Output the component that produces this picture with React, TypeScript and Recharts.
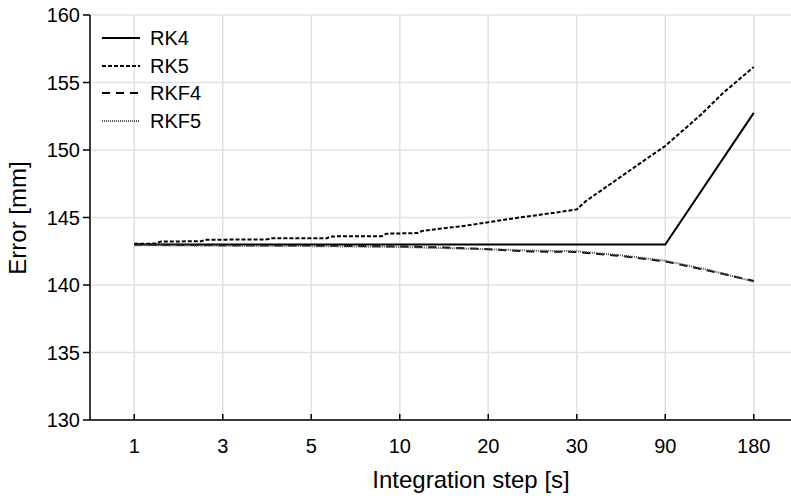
import React from 'react';
import { LineChart, Line, XAxis, YAxis, CartesianGrid } from 'recharts';

const stepLabels = ['1', '3', '5', '10', '20', '30', '90', '180'];
const stepPositions = [1, 2, 3, 4, 5, 6, 7, 8];
const errorTicks = [130, 135, 140, 145, 150, 155, 160];

const rk4Pos = [1, 2, 3, 4, 5, 6, 7, 8];
const rk4Val = [143.0, 143.0, 143.0, 143.0, 143.0, 143.0, 143.0, 152.75];

const rk5Pos = [1, 1.25, 1.3, 1.76, 1.8, 2.5, 2.55, 3.18, 3.22, 3.8, 3.85, 4.2, 4.25, 4.5, 4.75, 5.0, 5.35, 5.75, 6.0, 6.1, 6.45, 6.8, 7.0, 7.4, 7.65, 8.0];
const rk5Val = [143.05, 143.07, 143.22, 143.24, 143.35, 143.38, 143.46, 143.47, 143.6, 143.62, 143.8, 143.85, 144.0, 144.2, 144.4, 144.65, 145.0, 145.35, 145.6, 146.2, 147.8, 149.4, 150.3, 152.6, 154.2, 156.15];

const rkf4Pos = [1, 2, 3, 4, 4.5, 5, 5.5, 6, 6.5, 7, 7.5, 8];
const rkf4Val = [143.0, 142.95, 142.92, 142.85, 142.78, 142.65, 142.48, 142.45, 142.15, 141.75, 141.05, 140.3];

const rkf5Pos = [1, 2, 3, 4, 5, 5.5, 6, 6.5, 7, 7.5, 8];
const rkf5Val = [142.95, 142.9, 142.88, 142.82, 142.65, 142.55, 142.5, 142.2, 141.8, 141.1, 140.25];

const toPoints = (xs: number[], ys: number[]) => xs.map((x, i) => ({ x, y: ys[i] }));

const FONT = '"Liberation Sans", Arial, sans-serif';

const series = [
  { name: 'RK4', data: toPoints(rk4Pos, rk4Val), stroke: '#000', width: 2, dash: undefined as string | undefined },
  { name: 'RK5', data: toPoints(rk5Pos, rk5Val), stroke: '#000', width: 2, dash: '4 2' },
  { name: 'RKF4', data: toPoints(rkf4Pos, rkf4Val), stroke: '#000', width: 2, dash: '8 6' },
  { name: 'RKF5', data: toPoints(rkf5Pos, rkf5Val), stroke: '#555', width: 2, dash: '1 1' },
];

const BottomTick = (props: any) => {
  const { x, y, payload } = props;
  const idx = stepPositions.indexOf(payload.value);
  return (
    <g>
      <line x1={x} x2={x} y1={y} y2={y - 6} stroke="#000" strokeWidth={1.5} />
      <text x={x} y={y + 33} textAnchor="middle" fontSize={20} fontFamily={FONT} fill="#000">
        {stepLabels[idx]}
      </text>
    </g>
  );
};

const TopTick = (props: any) => {
  const { x, y } = props;
  return <line x1={x} x2={x} y1={y} y2={y + 6} stroke="#000" strokeWidth={1.5} />;
};

const LegendBox = () => (
  <div style={{ position: 'absolute', left: 102, top: 24, fontFamily: FONT, fontSize: 20, color: '#000' }}>
    {series.map((s) => (
      <div key={s.name} style={{ display: 'flex', alignItems: 'center', height: 27.7 }}>
        <svg width={40} height={10} style={{ display: 'block' }}>
          <line x1={0} x2={38} y1={5} y2={5} stroke={s.stroke} strokeWidth={s.width} strokeDasharray={s.dash} />
        </svg>
        <span style={{ marginLeft: 8, lineHeight: '20px' }}>{s.name}</span>
      </div>
    ))}
  </div>
);

export default function App() {
  return (
    <div style={{ position: 'absolute', left: 0, top: 0, width: 800, height: 498, background: '#fff' }}>
      <LineChart width={800} height={498} margin={{ top: 15, right: 2, left: 0, bottom: 0 }}>
        <CartesianGrid stroke="#e2e2e2" strokeWidth={1.5} />
        <XAxis
          type="number"
          dataKey="x"
          domain={[0.5, 8.5]}
          ticks={stepPositions}
          height={78}
          tickSize={0}
          tickMargin={0}
          tick={<BottomTick />}
          axisLine={{ stroke: '#000', strokeWidth: 1.5 }}
          allowDuplicatedCategory={false}
        />
        <XAxis
          xAxisId="top"
          orientation="top"
          type="number"
          dataKey="x"
          domain={[0.5, 8.5]}
          ticks={stepPositions}
          height={0}
          tickSize={0}
          tickMargin={0}
          tick={<TopTick />}
          axisLine={{ stroke: '#000', strokeWidth: 1.5 }}
        />
        <YAxis
          type="number"
          domain={[130, 160]}
          ticks={errorTicks}
          width={90}
          tickSize={7}
          tickMargin={3}
          interval={0}
          axisLine={{ stroke: '#000', strokeWidth: 1.5 }}
          tickLine={{ stroke: '#000', strokeWidth: 1.5 }}
          tick={{ fontSize: 20, fontFamily: FONT, fill: '#000' }}
          label={{
            content: () => (
              <text transform="translate(26, 218) rotate(-90)" textAnchor="middle" fontSize={24} fontFamily={FONT} fill="#000">
                Error [mm]
              </text>
            ),
          }}
        />
        {series.map((s) => (
          <Line
            key={s.name}
            data={s.data}
            dataKey="y"
            name={s.name}
            type="linear"
            stroke={s.stroke}
            strokeWidth={s.width}
            strokeDasharray={s.dash}
            dot={false}
            activeDot={false}
            isAnimationActive={false}
          />
        ))}
      </LineChart>
      <LegendBox />
      <div
        style={{
          position: 'absolute',
          left: 471,
          top: 480,
          transform: 'translate(-50%, -50%)',
          fontFamily: FONT,
          fontSize: 24,
          whiteSpace: 'nowrap',
          color: '#000',
        }}
      >
        Integration step [s]
      </div>
    </div>
  );
}
